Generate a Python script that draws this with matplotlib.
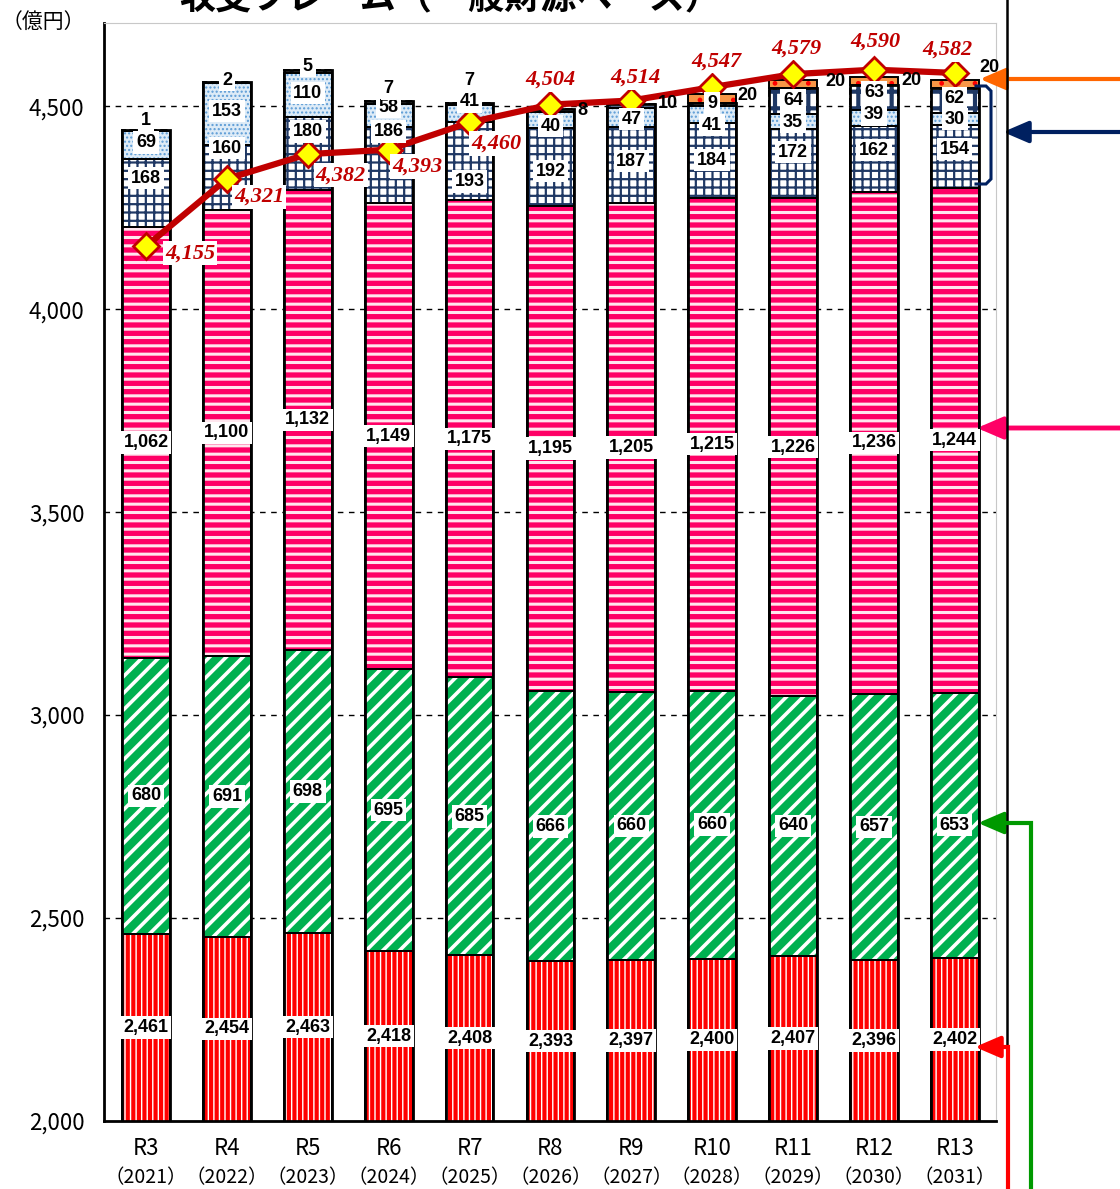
import matplotlib.pyplot as plt
from matplotlib.lines import Line2D
from matplotlib.patches import FancyArrowPatch

# data
years = ['R3', 'R4', 'R5', 'R6', 'R7', 'R8', 'R9', 'R10', 'R11', 'R12', 'R13']
western = ['2021', '2022', '2023', '2024', '2025', '2026', '2027', '2028', '2029', '2030', '2031']

red_vals = [2461, 2454, 2463, 2418, 2408, 2393, 2397, 2400, 2407, 2396, 2402]
green_vals = [680, 691, 698, 695, 685, 666, 660, 660, 640, 657, 653]
pink_vals = [1062, 1100, 1132, 1149, 1175, 1195, 1205, 1215, 1226, 1236, 1244]
grid_vals = [168, 160, 180, 186, 193, 192, 187, 184, 172, 162, 154]
dot_vals = [69, 153, 110, 58, 41, 40, 47, 41, 35, 39, 30]
top_vals = [1, 2, 5, 7, 7, 8, 10, 9, 64, 63, 62]
orange_vals = [0, 0, 0, 0, 0, 0, 0, 20, 20, 20, 20]
line_vals = [4155, 4321, 4382, 4393, 4460, 4504, 4514, 4547, 4579, 4590, 4582]

# label placement tweaks (data units), moved off the line like in the original
grid_label_y = [4323, 4397, 4438, 4438, 4315, 4340, 4365, 4367, 4387, 4392, 4394]
dot_label_y = [4411, 4488, 4532, 4498, 4512, 4451, 4468, 4453, 4461, 4480, 4468]
top_label_y = [4466, 4564, 4599, 4544, 4564, 4490, 4507, 4507, 4515, 4534, 4520]
top_label_dx = [0, 0, 0, 0, 0, 0.40, 0.45, 0, 0, 0, 0]
orange_label_y = [None] * 7 + [4527, 4562, 4564, 4596]
orange_label_dx = [0] * 7 + [0.44, 0.52, 0.47, 0.43]
line_label_off = [(44, -7), (32, -18), (33, -21), (29, -17), (27, -21),
                  (0, 25), (4, 23), (4, 26), (3, 26), (2, 28), (-7, 23)]

W, H = 1120, 1189
fig = plt.figure(figsize=(W / 100, H / 100), dpi=100)
ax = fig.add_axes([104 / W, 1 - 1121 / H, (996 - 104) / W, (1121 - 23) / H])

x = list(range(len(years)))
bw = 0.59

def stack(vals, bottoms, face, hatch, hcolor, hlw, edge_ls='-'):
    with plt.rc_context({'hatch.linewidth': hlw}):
        ax.bar(x, vals, bw, bottom=bottoms, color=face, edgecolor=hcolor,
               hatch=hatch, linewidth=0, zorder=2)
    ax.bar(x, vals, bw, bottom=bottoms, fill=False, edgecolor='black',
           linewidth=1.4, linestyle=edge_ls, zorder=3)

b0 = [0] * len(x)
b1 = [a + b for a, b in zip(b0, red_vals)]
b2 = [a + b for a, b in zip(b1, green_vals)]
b3 = [a + b for a, b in zip(b2, pink_vals)]
b4 = [a + b for a, b in zip(b3, grid_vals)]
b5 = [a + b for a, b in zip(b4, dot_vals)]
b6 = [a + b for a, b in zip(b5, top_vals)]

stack(red_vals, b0, '#FF0000', '|||', 'white', 1.0)
stack(green_vals, b1, '#00B050', '//', 'white', 2.6)
stack(pink_vals, b2, '#FF0066', '--', '#FFE6EE', 2.2)
stack(grid_vals, b3, 'white', '++', '#1F3864', 1.6)
stack(dot_vals, b4, '#DDEBF7', '....', '#5B9BD5', 1.0)
stack(top_vals, b5, 'white', '+', '#1F3864', 3.0, edge_ls='--')
oi = [i for i in x if orange_vals[i] > 0]
with plt.rc_context({'hatch.linewidth': 1.0}):
    ax.bar(oi, [orange_vals[i] for i in oi], bw, bottom=[b6[i] for i in oi],
           color='#F79646', edgecolor='#FF0000', hatch='.', linewidth=0, zorder=2)
ax.bar(oi, [orange_vals[i] for i in oi], bw, bottom=[b6[i] for i in oi],
       fill=False, edgecolor='black', linewidth=1.4, zorder=3)

# outer outline of whole bars
ax.bar(x, b6, bw, fill=False, edgecolor='black', linewidth=2.0, zorder=3)

lab_font = dict(family=['Liberation Sans Narrow', 'Liberation Sans'], weight='bold',
                fontsize=13, ha='center', va='center', zorder=6)
box = dict(boxstyle='square,pad=0.15', facecolor='white', edgecolor='none')

for i in x:
    ax.text(i, (2000 + b1[i]) / 2, f'{red_vals[i]:,}', bbox=box, **lab_font)
    ax.text(i, (b1[i] + b2[i]) / 2, f'{green_vals[i]:,}', bbox=box, **lab_font)
    ax.text(i, (b2[i] + b3[i]) / 2, f'{pink_vals[i]:,}', bbox=box, **lab_font)
    ax.text(i, grid_label_y[i], f'{grid_vals[i]}', bbox=box, **lab_font)
    ax.text(i, dot_label_y[i], f'{dot_vals[i]}', bbox=box, **lab_font)
    if top_label_dx[i] == 0:
        ax.text(i, top_label_y[i], f'{top_vals[i]}', bbox=box, **lab_font)
    else:
        ax.text(i + top_label_dx[i], top_label_y[i], f'{top_vals[i]}', **lab_font)
    if orange_vals[i] > 0:
        ax.text(i + orange_label_dx[i], orange_label_y[i], f'{orange_vals[i]}', **lab_font)

# total line
ax.plot(x, line_vals, color='#C00000', linewidth=4.5, zorder=4,
        marker='D', markersize=13, markerfacecolor='#FFFF00',
        markeredgecolor='#C00000', markeredgewidth=2)
for i in x:
    ax.annotate(f'{line_vals[i]:,}', (i, line_vals[i]), xytext=line_label_off[i],
                textcoords='offset pixels', ha='center', va='center',
                family='Liberation Serif', style='italic', weight='bold',
                fontsize=16, color='#C00000', zorder=7,
                bbox=dict(boxstyle='square,pad=0.1', facecolor='white', edgecolor='none'))

# axes styling
ax.set_xlim(-0.52, 10.51)
ax.set_ylim(2000, 4705)
ax.set_yticks([2000, 2500, 3000, 3500, 4000, 4500])
ax.set_yticklabels([f'{v:,}' for v in [2000, 2500, 3000, 3500, 4000, 4500]],
                   fontsize=16, family='Noto Sans CJK JP')
ax.tick_params(axis='y', length=0, pad=14)
ax.set_xticks([])
for v in [2500, 3000, 3500, 4000, 4500]:
    ax.axhline(v, color='black', linestyle=(0, (4, 4)), linewidth=1, zorder=1)
ax.spines['left'].set_linewidth(2)
ax.spines['bottom'].set_linewidth(2)
ax.spines['top'].set_color('#C8C8C8')
ax.spines['right'].set_color('#C8C8C8')

for i in x:
    ax.text(i, -0.025, years[i], transform=ax.get_xaxis_transform(), ha='center',
            va='center', fontsize=16, family='Noto Sans CJK JP')
    ax.text(i, -0.052, '（' + western[i] + '）', transform=ax.get_xaxis_transform(),
            ha='center', va='center', fontsize=14, family='Noto Sans CJK JP')

fig.text(43 / W, 1 - 22 / H, '（億円）', ha='center', va='center', fontsize=15,
         family='Noto Sans CJK JP')
fig.text(450 / W, 1 + 2 / H, '収支フレーム（一般財源ベース）', ha='center', va='center',
         fontsize=26, family='Noto Sans CJK JP', weight='bold')

# right-hand pointers
def px(a, b):
    return (a / W, 1 - b / H)

def fig_line(pts, color, lw):
    xs = [p[0] / W for p in pts]
    ys = [1 - p[1] / H for p in pts]
    fig.add_artist(Line2D(xs, ys, color=color, linewidth=lw, transform=fig.transFigure,
                          solid_joinstyle='miter'))

def fig_arrow(a, b, color, lw):
    fig.add_artist(FancyArrowPatch(px(*a), px(*b), transform=fig.transFigure,
                                   arrowstyle='-|>,head_length=1.4,head_width=0.6',
                                   mutation_scale=11, color=color, linewidth=lw,
                                   shrinkA=0, shrinkB=0))

fig_line([(1007, 0), (1007, 1189)], 'black', 1.8)
fig_arrow((1120, 79), (980, 79), '#FF6600', 3)
fig_line([(976, 86), (986, 86), (991, 91), (991, 179), (986, 184), (976, 184)], '#002060', 2.2)
fig_arrow((1120, 132), (1003, 132), '#002060', 3)
fig_arrow((1120, 428), (977, 428), '#FF0066', 3.5)
fig_line([(1031, 1189), (1031, 823), (1000, 823)], '#009900', 3)
fig_arrow((1005, 823), (978, 823), '#009900', 3)
fig_line([(1008, 1189), (1008, 1047), (995, 1047)], '#FF0000', 3)
fig_arrow((1000, 1047), (975, 1047), '#FF0000', 3)

fig.savefig('out.png', dpi=100)
